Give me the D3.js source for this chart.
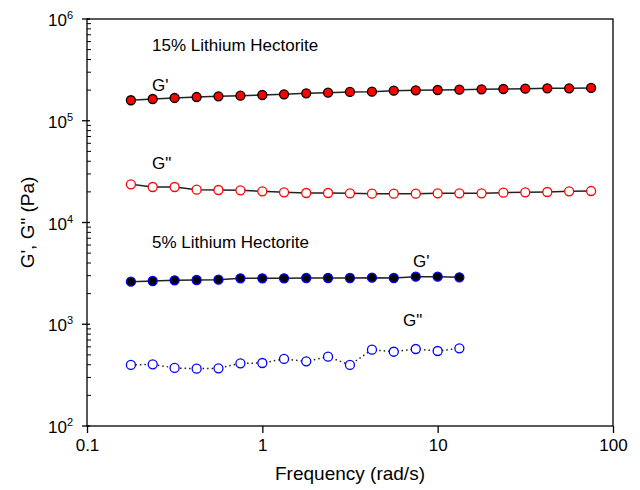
<!DOCTYPE html>
<html lang="en">
<head>
<meta charset="utf-8">
<title>G', G'' vs Frequency</title>
<script src="https://cdn.jsdelivr.net/npm/d3@7"></script>
<style>
  body { margin: 0; background: #fff; }
  svg text { font-family: "Liberation Sans", Arial, sans-serif; fill: #000; }
</style>
</head>
<body>
<script>
// frequency (rad/s), 8 points per decade
var freq = [0.178, 0.237, 0.316, 0.422, 0.562, 0.75, 1, 1.33, 1.78, 2.37, 3.16,
            4.22, 5.62, 7.5, 10, 13.3, 17.8, 23.7, 31.6, 42.2, 56.2, 75];

// 15% Lithium Hectorite (Pa)
var gp15  = [159000, 163600, 167400, 171100, 173900, 176300, 179100, 182000, 186200, 188800, 191800,
             193000, 197400, 199200, 200500, 201900, 203700, 205100, 206500, 208400, 208400, 210000];
var gpp15 = [23740, 22330, 22330, 21010, 20860, 20720, 20250, 19810, 19500, 19500, 19360,
             19190, 19190, 19190, 19360, 19360, 19360, 19630, 19810, 19940, 20250, 20390];

// 5% Lithium Hectorite (Pa), first 16 frequencies
var gp5  = [2620, 2661, 2704, 2723, 2742, 2830, 2830, 2830, 2848, 2848, 2848, 2868, 2848, 2934, 2934, 2894];
var gpp5 = [398, 404, 372, 366, 369, 413, 416, 456, 432, 480, 398, 562, 537, 571, 546, 580];

var xTicks = [0.1, 1, 10, 100];
var yTicks = [2, 3, 4, 5, 6]; // exponents

var width = 640, height = 490;
var plotL = 87, plotR = 613, plotT = 19, plotB = 426;

var svg = d3.select("body").append("svg")
    .attr("width", width)
    .attr("height", height);

var x = d3.scaleLog().domain([0.1, 100]).range([plotL, plotR]);
var y = d3.scaleLog().domain([100, 1e6]).range([plotB, plotT]);

// frame
svg.append("rect")
    .attr("x", plotL).attr("y", plotT)
    .attr("width", plotR - plotL).attr("height", plotB - plotT)
    .attr("fill", "none").attr("stroke", "#000").attr("stroke-width", 1.3);

// x axis
var xAxis = svg.append("g")
    .attr("transform", "translate(0," + plotB + ")")
    .call(d3.axisBottom(x).tickValues(xTicks).tickSize(7).tickPadding(6).tickFormat(d3.format("")));
xAxis.select(".domain").remove();
xAxis.selectAll("line").attr("stroke-width", 1.3);
xAxis.selectAll("text").attr("font-size", 17).style("font-family", "Liberation Sans, Arial, sans-serif");

// y axis major ticks (crossing the axis) and minor ticks (inside)
var majors = yTicks.map(function(e) { return Math.pow(10, e); });
svg.selectAll(".ymaj").data(majors).enter().append("line")
    .attr("x1", plotL - 5).attr("x2", plotL + 3)
    .attr("y1", function(d) { return y(d); })
    .attr("y2", function(d) { return y(d); })
    .attr("stroke", "#000").attr("stroke-width", 1.3);

var minors = [];
for (var e = 2; e < 6; e++) {
  for (var m = 2; m <= 9; m++) minors.push(m * Math.pow(10, e));
}
svg.selectAll(".ymin").data(minors).enter().append("line")
    .attr("x1", plotL).attr("x2", plotL + 4)
    .attr("y1", function(d) { return y(d); })
    .attr("y2", function(d) { return y(d); })
    .attr("stroke", "#000").attr("stroke-width", 1);

var ylab = svg.selectAll(".ylab").data(yTicks).enter().append("text")
    .attr("x", plotL - 14)
    .attr("y", function(d) { return y(Math.pow(10, d)) + 7; })
    .attr("text-anchor", "end")
    .attr("font-size", 17);
ylab.append("tspan").text("10");
ylab.append("tspan").attr("font-size", 11).attr("dy", -7).text(function(d) { return d; });

// axis titles
svg.append("text")
    .attr("x", (plotL + plotR) / 2).attr("y", 480)
    .attr("text-anchor", "middle").attr("font-size", 19)
    .text("Frequency (rad/s)");

svg.append("text")
    .attr("transform", "translate(34," + ((plotT + plotB) / 2) + ") rotate(-90)")
    .attr("text-anchor", "middle").attr("font-size", 19)
    .text("G', G\" (Pa)");

// series
var series = [
  { vals: gp15,  fill: "#ff0000", stroke: "#000",    dash: null },
  { vals: gpp15, fill: "#ffffff", stroke: "#ff0000", dash: null },
  { vals: gp5,   fill: "#000000", stroke: "#0000ff", dash: null },
  { vals: gpp5,  fill: "#ffffff", stroke: "#0000ff", dash: "1.5,3" }
];

var line = d3.line()
    .x(function(d) { return x(d[0]); })
    .y(function(d) { return y(d[1]); });

series.forEach(function(s) {
  var pts = s.vals.map(function(v, i) { return [freq[i], v]; });
  svg.append("path")
      .datum(pts)
      .attr("d", line)
      .attr("fill", "none")
      .attr("stroke", "#222")
      .attr("stroke-width", 1.5)
      .attr("stroke-dasharray", s.dash);
  svg.append("g").selectAll("circle").data(pts).enter().append("circle")
      .attr("cx", function(d) { return x(d[0]); })
      .attr("cy", function(d) { return y(d[1]); })
      .attr("r", 4.5)
      .attr("fill", s.fill)
      .attr("stroke", s.stroke)
      .attr("stroke-width", 1.3);
});

// annotations
var notes = [
  { t: "15% Lithium Hectorite", x: 152, y: 51 },
  { t: "G'",  x: 152, y: 91 },
  { t: "G\"", x: 152, y: 169 },
  { t: "5% Lithium Hectorite",  x: 152, y: 248 },
  { t: "G'",  x: 413, y: 267 },
  { t: "G\"", x: 403, y: 326 }
];
svg.selectAll(".note").data(notes).enter().append("text")
    .attr("x", function(d) { return d.x; })
    .attr("y", function(d) { return d.y; })
    .attr("font-size", 17)
    .text(function(d) { return d.t; });
</script>
</body>
</html>
